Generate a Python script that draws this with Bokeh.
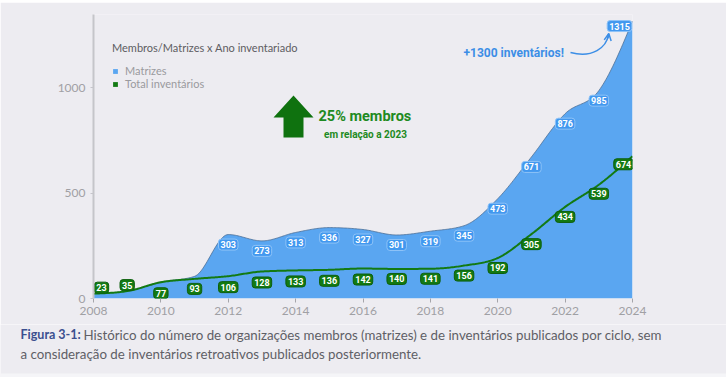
from bokeh.plotting import figure
from bokeh.layouts import column, row
from bokeh.models import (ColumnDataSource, Label, Legend, LegendItem, PolyAnnotation,
                          Arrow, OpenHead, FixedTicker, BoxAnnotation, Range1d)
from bokeh.core.properties import value
from bokeh.embed import file_html
from bokeh.resources import INLINE

# ---------------- data ----------------
years = list(range(2008, 2025))
matrizes = [23, 35, 78, 105, 303, 273, 313, 336, 327, 301, 319, 345, 473, 671, 876, 985, 1315]
inventarios = [23, 35, 77, 93, 106, 128, 133, 136, 142, 140, 141, 156, 192, 305, 434, 539, 674]
x_ticks = [2008, 2010, 2012, 2014, 2016, 2018, 2020, 2022, 2024]
y_ticks = [0, 500, 1000]
matrizes_labeled_from = 2012  # years before this carry no Matrizes label

# label nudges in screen pixels (layout only)
inv_dx = [8, 0, 0, 0, 0, 0, 0, 0, 0, 0, 0, 0, 0, 0, 0, 0, -9]
inv_dy = [-6, -6, 11, 10, 11, 11, 11, 11, 11, 10, 10, 10, 10, 10, 10, 9, 8]
mat_dx = [0] * 12 + [-13]
mat_dy = [10] * 12 + [5]

# ---------------- style ----------------
BG = "#edecf1"
BLUE = "#5aa6f1"
BLUE_LBL = "#4298ef"
GREEN = "#137a13"
GREEN_TXT = "#1e8a22"
ARROW_BLUE = "#3c8ee6"
LBL_FONT = "Roboto"
W, H = 726, 377
STRIP = 2
CAP_TOP = 324
FL, FR, FT, FB = 93, 632, 14, 298
YMAX = 1346


def xd(px):
    return 2008 + (px - FL) * 16.0 / (FR - FL)


def yd(py):
    return (FB - py) * YMAX / (FB - FT)


def monotone(xs, ys, n=24):
    """d3 curveMonotoneX style rendering of a polyline."""
    m = len(xs)
    h = [xs[i + 1] - xs[i] for i in range(m - 1)]
    s = [(ys[i + 1] - ys[i]) / h[i] for i in range(m - 1)]
    t = [0.0] * m
    sg = lambda v: -1 if v < 0 else 1
    for i in range(1, m - 1):
        s0, s1 = s[i - 1], s[i]
        p_ = (s0 * h[i] + s1 * h[i - 1]) / (h[i - 1] + h[i])
        t[i] = (sg(s0) + sg(s1)) * min(abs(s0), abs(s1), 0.5 * abs(p_)) or 0.0
    t[0] = (3 * s[0] - t[1]) / 2
    t[-1] = (3 * s[-1] - t[-2]) / 2
    ox, oy = [], []
    for i in range(m - 1):
        dx = h[i]
        for k in range(n):
            u = k / n
            h00 = 2 * u**3 - 3 * u**2 + 1
            h10 = u**3 - 2 * u**2 + u
            h01 = -2 * u**3 + 3 * u**2
            h11 = u**3 - u**2
            ox.append(xs[i] + u * dx)
            oy.append(h00 * ys[i] + h10 * dx * t[i] + h01 * ys[i + 1] + h11 * dx * t[i + 1])
    ox.append(xs[-1])
    oy.append(ys[-1])
    return ox, oy


# ---------------- top strip ----------------
strip = figure(width=W, height=STRIP, output_backend="svg", toolbar_location=None,
               x_axis_location=None, y_axis_location=None, min_border=0,
               background_fill_color="#a9b3c9", border_fill_color="#a9b3c9")
strip.outline_line_color = None
strip.grid.visible = False

# ---------------- main chart ----------------
p = figure(width=W, height=CAP_TOP - STRIP, x_range=Range1d(2008, 2024), y_range=Range1d(0, YMAX),
           output_backend="svg", toolbar_location=None,
           background_fill_color=BG, border_fill_color=BG,
           min_border_left=FL, min_border_right=W - FR, min_border_top=FT - STRIP,
           min_border_bottom=CAP_TOP - FB)
p.outline_line_color = None
p.grid.visible = False

p.xaxis.ticker = FixedTicker(ticks=x_ticks)
p.xaxis.axis_line_color = None
p.xaxis.major_tick_line_color = "#a5a5aa"
p.xaxis.major_tick_in = 0
p.xaxis.major_tick_out = 4
p.xaxis.minor_tick_line_color = None
p.xaxis.major_label_standoff = 4
p.xaxis.major_label_text_font = "Lato"
p.xaxis.major_label_text_font_size = "12px"
p.xaxis.major_label_text_color = "#a0a0a4"

p.yaxis.ticker = FixedTicker(ticks=y_ticks)
p.yaxis.axis_line_color = "#c5c5ca"
p.yaxis.axis_line_width = 2
p.yaxis.major_tick_line_color = "#c5c5ca"
p.yaxis.major_tick_in = 0
p.yaxis.major_tick_out = 3
p.yaxis.minor_tick_line_color = None
p.yaxis.major_label_standoff = 5
p.yaxis.major_label_text_font = "Lato"
p.yaxis.major_label_text_font_size = "12px"
p.yaxis.major_label_text_color = "#a0a0a4"

# series
bx, by = monotone(years, matrizes)
gx, gy = monotone(years, inventarios)
area_b = p.varea(x=bx, y1=[0] * len(bx), y2=by, fill_color=BLUE)
p.line(bx, by, line_color="#4d6f96", line_width=1, line_alpha=0.8)
# zero-height green area: only serves as the square legend swatch for the series
area_g = p.varea(x=gx, y1=gy, y2=gy, fill_color=GREEN)
p.line(gx, gy, line_color=GREEN, line_width=2)

# data labels
mi = [i for i, y in enumerate(years) if y >= matrizes_labeled_from]
msrc = ColumnDataSource(dict(x=[years[i] for i in mi], y=[matrizes[i] for i in mi],
                             t=[str(matrizes[i]) for i in mi], dx=mat_dx, dy=mat_dy))
p.text(x="x", y="y", text="t", source=msrc, x_offset="dx", y_offset="dy",
       text_font=value(LBL_FONT), text_font_size=value("9px"),
       text_font_style="bold", text_color="white", text_align="center", text_baseline="middle",
       background_fill_color=BLUE_LBL, border_line_color="#8ec3f7", border_line_width=1,
       border_radius=3, padding=2)
gsrc = ColumnDataSource(dict(x=years, y=inventarios, t=[str(v) for v in inventarios],
                             dx=inv_dx, dy=inv_dy))
p.text(x="x", y="y", text="t", source=gsrc, x_offset="dx", y_offset="dy",
       text_font=value(LBL_FONT), text_font_size=value("9px"),
       text_font_style="bold", text_color="white", text_align="center", text_baseline="middle",
       background_fill_color=GREEN, border_line_color="#0d5f0d", border_line_width=1,
       border_radius=3, padding=2)

# legend
leg = Legend(items=[LegendItem(label="Matrizes", renderers=[area_b]),
                    LegendItem(label="Total inventários", renderers=[area_g])],
             location=(19, 208), title="Membros/Matrizes x Ano inventariado",
             title_text_font="Lato", title_text_font_size="11px", title_text_font_style="normal",
             title_text_color="#5d5d62", title_standoff=10,
             label_text_font="Lato", label_text_font_size="11px", label_text_color="#9a9a9e",
             glyph_width=6, glyph_height=6, label_height=11, label_standoff=7, spacing=0,
             padding=0, margin=0, background_fill_alpha=0, border_line_alpha=0)
p.add_layout(leg)

# big green arrow
ax_ = [293, 313, 303, 303, 283, 283, 273]
ay_ = [95, 117, 117, 137, 137, 117, 117]
p.add_layout(PolyAnnotation(xs=[xd(v) for v in ax_], ys=[yd(v) for v in ay_],
                            fill_color="#0f720f", fill_alpha=1, line_color=None))
p.add_layout(Label(x=xd(318), y=yd(116), text="25% membros", text_font="Roboto",
                   text_font_size="14.5px", text_font_style="bold", text_color=GREEN_TXT,
                   text_align="left", text_baseline="middle"))
p.add_layout(Label(x=xd(365), y=yd(134), text="em relação a 2023", text_font="Roboto",
                   text_font_size="10px", text_font_style="bold", text_color=GREEN_TXT,
                   text_align="center", text_baseline="middle"))

# +1300 annotation
p.add_layout(Label(x=xd(463), y=yd(52), text="+1300 inventários!",
                   text_font="Roboto", text_font_size="12px",
                   text_font_style="bold", text_color=ARROW_BLUE,
                   text_align="left", text_baseline="middle"))
p.bezier(x0=xd(570), y0=yd(52), x1=xd(608), y1=yd(34), cx0=xd(592), cy0=yd(58),
         cx1=xd(606), cy1=yd(47), line_color=ARROW_BLUE, line_width=1.5)
p.add_layout(Arrow(x_start=xd(607.5), y_start=yd(38), x_end=xd(608.3), y_end=yd(33),
                   line_color=ARROW_BLUE, line_width=1.5,
                   end=OpenHead(size=7, line_color=ARROW_BLUE, line_width=1.5)))

# ---------------- caption ----------------
CAP_H = H - CAP_TOP
cap = figure(width=W, height=CAP_H, x_range=Range1d(0, W), y_range=Range1d(CAP_H, 0),
             output_backend="svg", toolbar_location=None,
             x_axis_location=None, y_axis_location=None, min_border=0,
             background_fill_color=BG, border_fill_color=BG)
cap.outline_line_color = None
cap.grid.visible = False
cap.add_layout(BoxAnnotation(left=0, right=W, top=CAP_H - 4, bottom=CAP_H,
                             fill_color="#f5f5f8", fill_alpha=1, line_color=None))
cap.add_layout(Label(x=20, y=334 - CAP_TOP, text="Figura 3-1:", text_font="Lato",
                     text_font_size="12.5px", text_font_style="bold", text_color="#3b4f8f",
                     text_align="left", text_baseline="middle"))
cap.add_layout(Label(x=83, y=334 - CAP_TOP,
                     text="Histórico do número de organizações membros (matrizes) e de inventários publicados por ciclo, sem",
                     text_font="Lato", text_font_size="13.3px", text_color="#5f5f66",
                     text_align="left", text_baseline="middle"))
cap.add_layout(Label(x=20, y=353 - CAP_TOP,
                     text="a consideração de inventários retroativos publicados posteriormente.",
                     text_font="Lato", text_font_size="13.3px", text_color="#5f5f66",
                     text_align="left", text_baseline="middle"))

layout = column(row(strip), p, row(cap), spacing=0)
open("out.html", "w").write(file_html(layout, INLINE))
